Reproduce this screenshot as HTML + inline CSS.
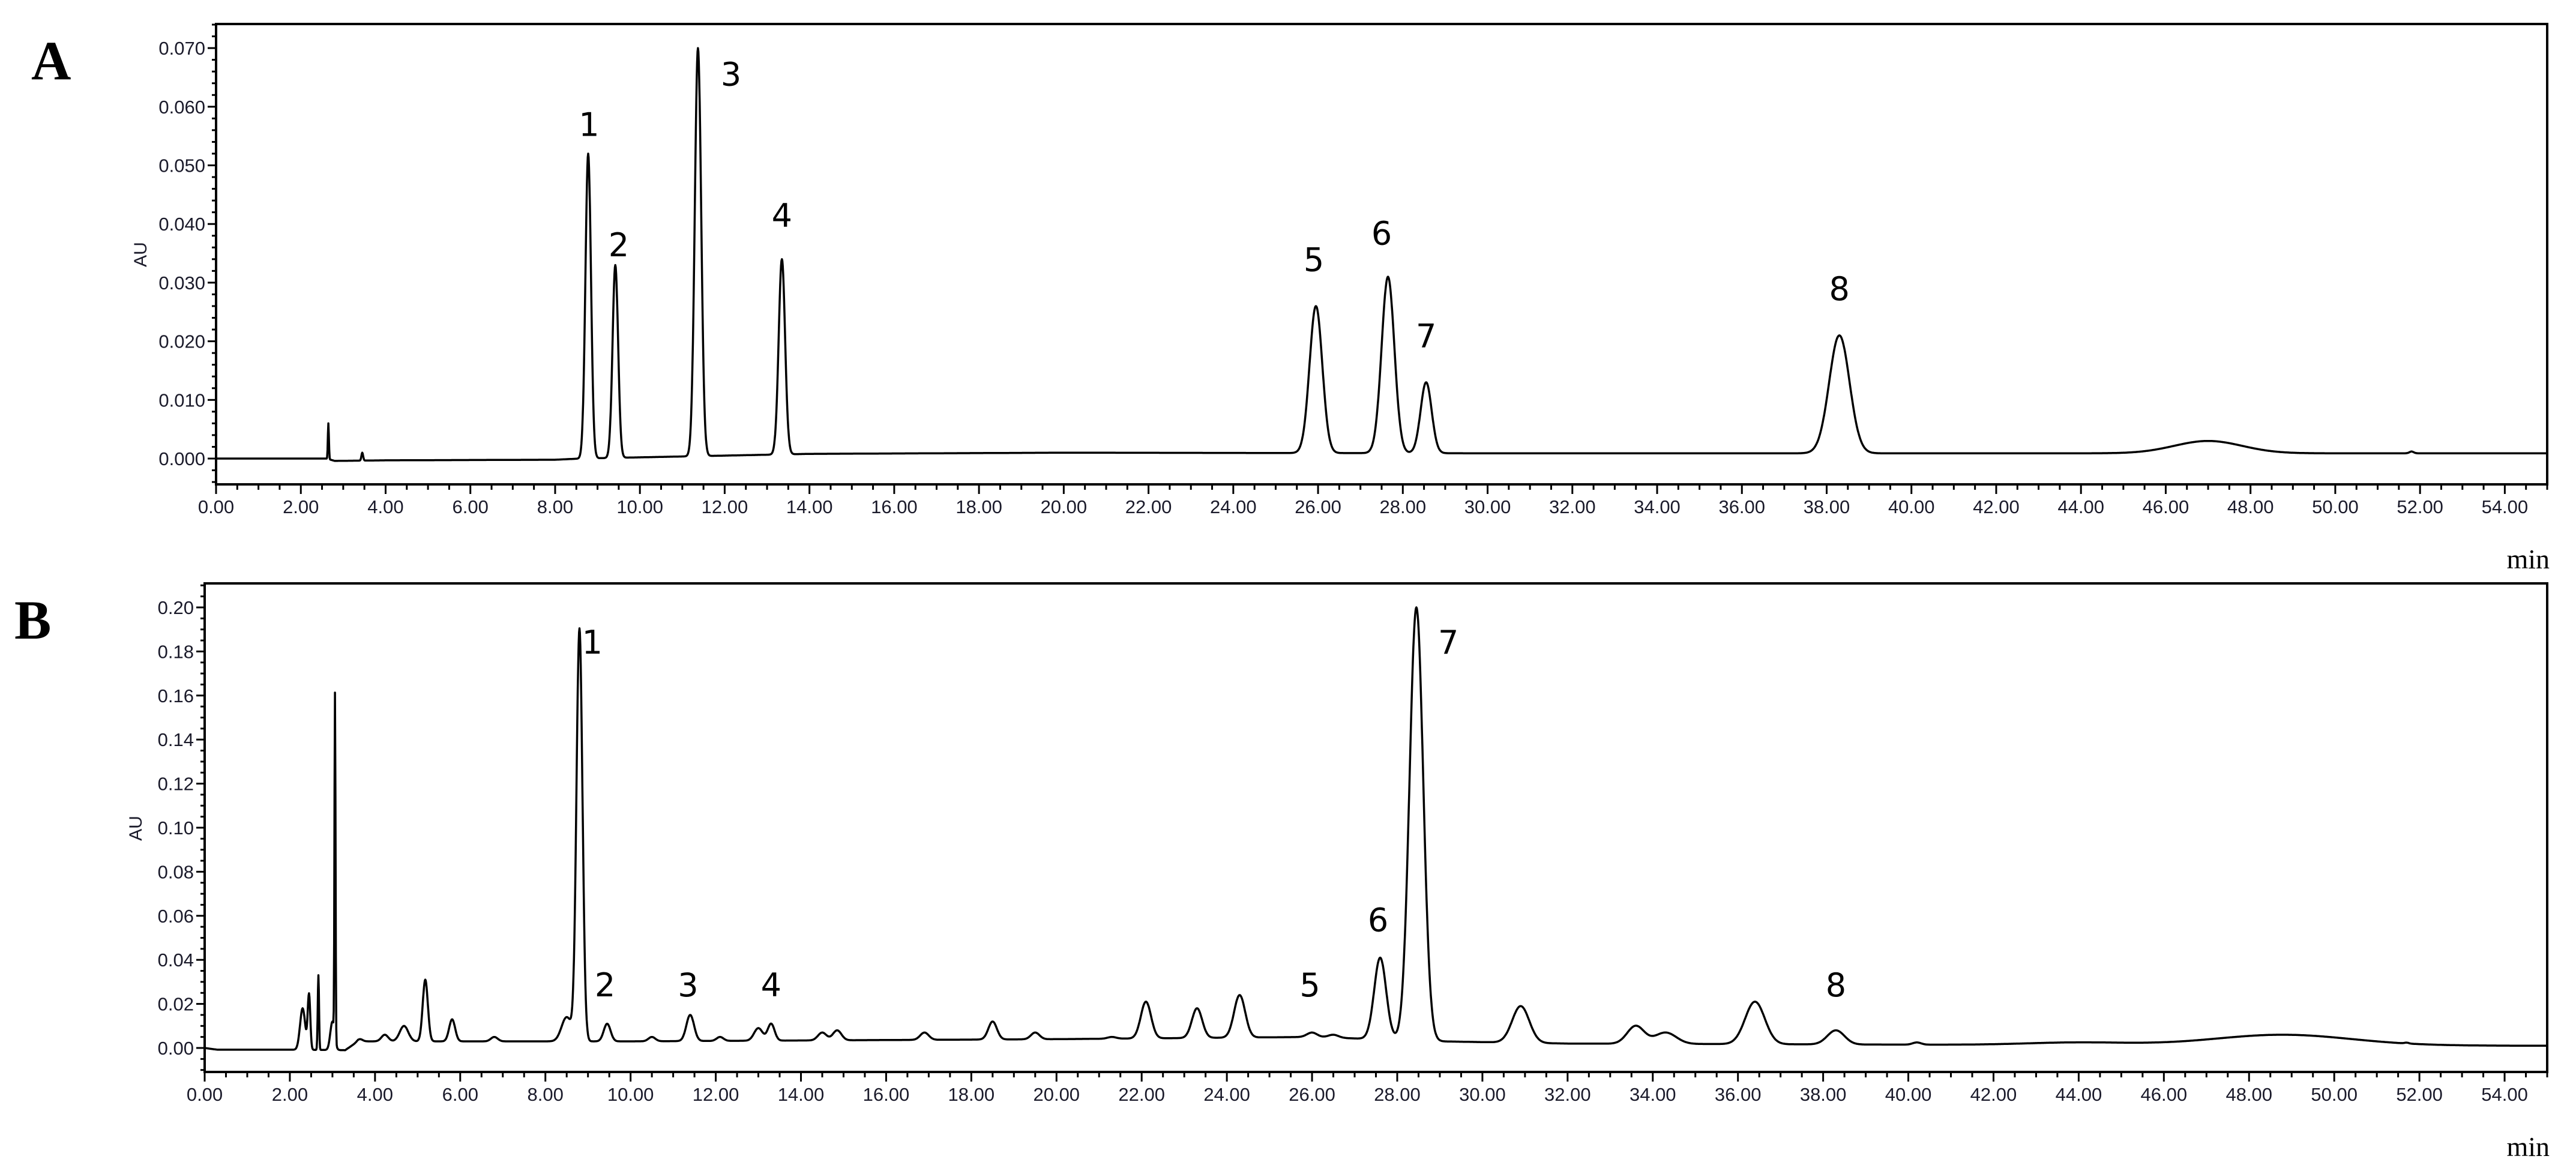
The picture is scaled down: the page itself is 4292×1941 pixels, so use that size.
<!DOCTYPE html>
<html><head><meta charset="utf-8">
<style>
html,body{margin:0;padding:0;background:#fff;}
svg{display:block;}
.tk{font-family:"Liberation Sans",Arial,sans-serif;font-size:31px;fill:#1a1a2a;}
.pk{font-family:"DejaVu Sans","Liberation Sans",sans-serif;font-size:54px;fill:#000;}
.pl{font-family:"Liberation Serif",serif;font-weight:bold;font-size:92px;fill:#000;}
.mn{font-family:"Liberation Serif",serif;font-size:46px;fill:#000;}
.au{font-family:"Liberation Sans",sans-serif;font-size:30px;fill:#1a1a2a;}
</style></head>
<body>
<svg id="fig" width="4292" height="1941" viewBox="0 0 4292 1941" xmlns="http://www.w3.org/2000/svg"></svg>
<script>
// ---- Panel A data ----
const aPeakTimes   = [2.65, 3.45, 8.78, 9.42, 11.37, 13.35, 25.95, 27.65, 28.55, 38.3, 47.0, 51.8];
const aPeakHeights = [0.006, 0.001, 0.052, 0.033, 0.070, 0.034, 0.026, 0.031, 0.013, 0.021, 0.003, 0.0012];
const aPeakWidths  = [0.012, 0.02, 0.065, 0.065, 0.075, 0.075, 0.15, 0.15, 0.13, 0.24, 0.8, 0.05];
const aBaseTimes   = [0, 2.6, 2.8, 4, 8, 8.6, 14, 20, 30, 40, 55];
const aBaseValues  = [0, 0, -0.0004, -0.0003, -0.0002, 0, 0.0008, 0.001, 0.0009, 0.0009, 0.0009];
const aYTicks = ["0.000","0.010","0.020","0.030","0.040","0.050","0.060","0.070"];
const aLabels = ["1","2","3","4","5","6","7","8"];
const aLabelTimes = [8.8, 9.5, 12.15, 13.35, 25.9, 27.5, 28.55, 38.3];
const aLabelValues = [0.0550, 0.0345, 0.0636, 0.0395, 0.0320, 0.0365, 0.0190, 0.0270];
// ---- Panel B data ----
const bPeakTimes   = [2.3, 2.45, 2.67, 3.0, 3.06, 3.65, 4.23, 4.68, 5.18, 5.81, 6.8, 8.5, 8.8, 9.45, 10.5, 11.4, 12.1, 13.0, 13.3, 14.5, 14.85, 16.9, 18.5, 19.5, 21.3, 22.1, 23.3, 24.3, 26.0, 26.5, 27.6, 28.45, 30.9, 33.6, 34.3, 36.4, 38.3, 40.2, 44.0, 48.8, 51.7];
const bPeakHeights = [0.018, 0.024, 0.033, 0.012, 0.155, 0.004, 0.006, 0.010, 0.031, 0.013, 0.005, 0.014, 0.19, 0.011, 0.005, 0.015, 0.005, 0.009, 0.011, 0.007, 0.008, 0.007, 0.012, 0.007, 0.005, 0.021, 0.018, 0.024, 0.007, 0.006, 0.041, 0.200, 0.019, 0.010, 0.007, 0.021, 0.008, 0.0025, 0.0025, 0.006, 0.0015];
const bPeakWidths  = [0.06, 0.03, 0.015, 0.05, 0.012, 0.06, 0.08, 0.1, 0.06, 0.07, 0.08, 0.12, 0.07, 0.08, 0.08, 0.09, 0.08, 0.1, 0.08, 0.1, 0.1, 0.1, 0.1, 0.1, 0.1, 0.12, 0.12, 0.13, 0.12, 0.12, 0.14, 0.16, 0.2, 0.2, 0.25, 0.23, 0.2, 0.1, 1.2, 1.6, 0.05];
const bBaseTimes   = [0, 0.3, 2.2, 3.3, 3.6, 8, 10, 20, 26, 29, 32, 40, 55];
const bBaseValues  = [0, -0.0008, -0.0008, -0.001, 0.003, 0.003, 0.003, 0.004, 0.005, 0.003, 0.002, 0.0015, 0.001];
const bYTicks = ["0.00","0.02","0.04","0.06","0.08","0.10","0.12","0.14","0.16","0.18","0.20"];
const bLabels = ["1","2","3","4","5","6","7","8"];
const bLabelTimes = [9.1, 9.4, 11.35, 13.3, 25.95, 27.55, 29.2, 38.3];
const bLabelValues = [0.179, 0.0235, 0.0235, 0.0235, 0.0235, 0.0530, 0.179, 0.0235];
const xTickLabels = [];
for (let i = 0; i <= 54; i += 2) xTickLabels.push(i.toFixed(2));

const NS = "http://www.w3.org/2000/svg";
const svg = document.getElementById("fig");
function mk(tag, attrs, parent) {
  const e = document.createElementNS(NS, tag);
  for (const k in attrs) e.setAttribute(k, attrs[k]);
  (parent || svg).appendChild(e);
  return e;
}
function interp(ts, vs, t) {
  if (t <= ts[0]) return vs[0];
  for (let i = 1; i < ts.length; i++) {
    if (t <= ts[i]) { const f = (t - ts[i-1]) / (ts[i] - ts[i-1]); return vs[i-1] + f * (vs[i] - vs[i-1]); }
  }
  return vs[vs.length - 1];
}

function panel(cfg) {
  const g = mk("g", {});
  
  
  const X = t => cfg.x0 + (t - 0) / 55 * (cfg.x1 - cfg.x0);
  const Y = v => cfg.yZero - v / cfg.yStep * cfg.yStepPx;
  const fr = mk("rect", {x: cfg.x0, y: cfg.top, width: cfg.x1 - cfg.x0, height: cfg.bottom - cfg.top, fill: "none", stroke: "#000", "stroke-width": 4}, g);
  
  
  const yg = mk("g", {}, g);
  
  
  const minorStep = cfg.yStep / cfg.minorPer;
  for (let k = -Math.floor((Y(0) - cfg.top) / 1); ; k++) {
    const v = k * minorStep;
    const y = Y(v);
    if (y > cfg.bottom) continue;
    if (y < cfg.top) break;
    const major = (Math.abs(Math.round(k / cfg.minorPer) * cfg.minorPer - k) < 1e-9);
    mk("line", {x1: cfg.x0 - (major ? 14 : 7), x2: cfg.x0, y1: y, y2: y, stroke: "#000", "stroke-width": 3}, yg);
  }
  cfg.yTicks.forEach((lab, i) => {
    const t = mk("text", {x: cfg.x0 - 18, y: Y(i * cfg.yStep) + 11, "text-anchor": "end", class: "tk"}, yg);
    t.textContent = lab;
    
    
  });
  const xg = mk("g", {}, g);
  
  
  for (let k = 0; k <= 110; k++) {
    const t = k * 0.5, x = X(t);
    const major = k % 4 === 0;
    mk("line", {x1: x, x2: x, y1: cfg.bottom, y2: cfg.bottom + (major ? 16 : 9), stroke: "#000", "stroke-width": 3}, xg);
  }
  xTickLabels.forEach(lab => {
    const t = mk("text", {x: X(parseFloat(lab)), y: cfg.bottom + 48, "text-anchor": "middle", class: "tk"}, xg);
    t.textContent = lab;
    
    
  });
  const mn = mk("text", {x: cfg.x1 + 4, y: cfg.bottom + 140, "text-anchor": "end", class: "mn"}, g);
  mn.textContent = "min";
  
  
  const au = mk("text", {x: 0, y: 0, "text-anchor": "middle", class: "au", transform: `translate(${cfg.auX},${cfg.auY}) rotate(-90)`}, g);
  au.textContent = "AU";
  
  
  const pl = mk("text", {x: cfg.letterX, y: cfg.letterY, class: "pl"}, g);
  pl.textContent = cfg.letter;
  
  
  let d = "";
  for (let i = 0; i <= 5500; i++) {
    const t = i * 0.01;
    let v = interp(cfg.bt, cfg.bv, t);
    for (let p = 0; p < cfg.pt.length; p++) {
      const amp = cfg.ph[p] - interp(cfg.bt, cfg.bv, cfg.pt[p]);
      const z = (t - cfg.pt[p]) / cfg.pw[p];
      if (Math.abs(z) < 8) v += amp * Math.exp(-0.5 * z * z);
    }
    d += (i ? "L" : "M") + X(t).toFixed(1) + " " + Y(v).toFixed(1);
  }
  const tr = mk("path", {d: d, fill: "none", stroke: "#000", "stroke-width": 3.5, "stroke-linejoin": "round"}, g);
  
  
  cfg.labels.forEach((lab, i) => {
    const t = mk("text", {x: X(cfg.lt[i]), y: Y(cfg.lv[i]), "text-anchor": "middle", class: "pk"}, g);
    t.textContent = lab;
    
    
  });
}

panel({name: "panel-a", letter: "A", letterX: 52, letterY: 132, x0: 360, x1: 4244, top: 40, bottom: 807,
  yZero: 764, yStep: 0.01, yStepPx: 97.7, minorPer: 5, yTicks: aYTicks, auX: 244, auY: 424,
  pt: aPeakTimes, ph: aPeakHeights, pw: aPeakWidths, bt: aBaseTimes, bv: aBaseValues,
  labels: aLabels, lt: aLabelTimes, lv: aLabelValues});
panel({name: "panel-b", letter: "B", letterX: 24, letterY: 1064, x0: 341, x1: 4244, top: 972, bottom: 1786,
  yZero: 1746, yStep: 0.02, yStepPx: 73.4, minorPer: 4, yTicks: bYTicks, auX: 236, auY: 1380,
  pt: bPeakTimes, ph: bPeakHeights, pw: bPeakWidths, bt: bBaseTimes, bv: bBaseValues,
  labels: bLabels, lt: bLabelTimes, lv: bLabelValues});
</script>
</body></html>
